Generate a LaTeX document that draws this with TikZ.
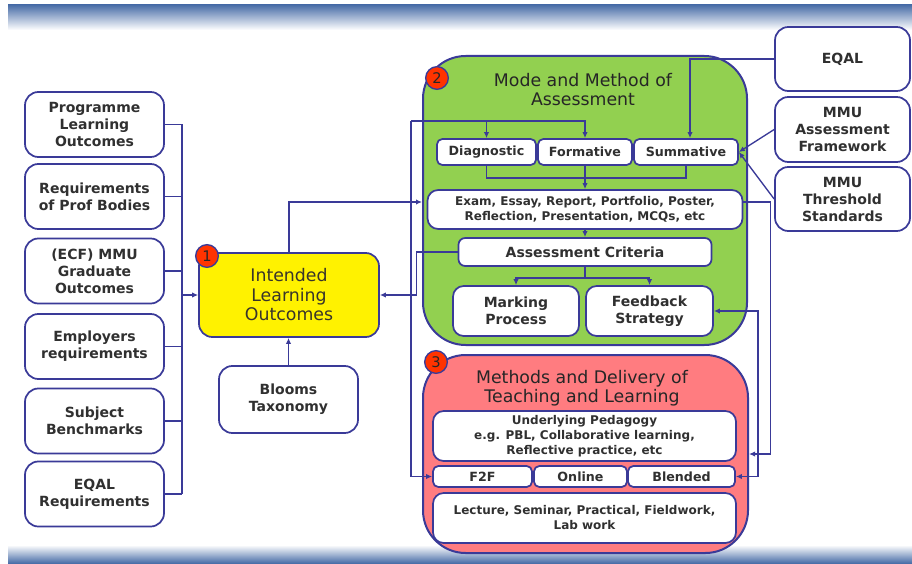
\documentclass[tikz,border=0pt]{standalone}
\usepackage{fontspec}
\setmainfont{DejaVu Sans}
\usetikzlibrary{positioning,calc,arrows.meta}

\definecolor{navyline}{RGB}{58,58,152}
\definecolor{greenpanel}{RGB}{146,208,80}
\definecolor{redpanel}{RGB}{255,124,128}
\definecolor{badgered}{RGB}{255,51,0}
\definecolor{barblue}{RGB}{74,110,168}
\definecolor{textgrey}{RGB}{48,48,48}

\begin{document}
\begin{tikzpicture}[x=0.75pt,y=-0.75pt,
    line/.style={draw=navyline,line width=1pt},
    arr/.style={line,-{Latex[length=4.5pt,width=4pt]}},
    twoarr/.style={line,{Latex[length=4.5pt,width=4pt]}-{Latex[length=4.5pt,width=4pt]}},
    box/.style={draw=navyline,line width=1.3pt,fill=white,rounded corners=8pt,
        align=center,text=textgrey,inner sep=1pt,
        font=\bfseries\fontsize{10.5}{12.75}\selectfont},
    sidebox/.style={box,rounded corners=10pt,minimum width=104.25pt,minimum height=48.75pt},
    smallbox/.style={box,rounded corners=4pt,minimum height=19.5pt,
        font=\bfseries\fontsize{9.5}{11}\selectfont},
    widebox/.style={box,minimum width=227.25pt,minimum height=37.5pt,
        font=\bfseries\fontsize{9}{11.25}\selectfont},
    panel/.style={draw=navyline,line width=1.5pt,rounded corners=32pt},
    title/.style={align=center,text=black!85,font=\fontsize{13}{14.5}\selectfont},
    badge/.style={circle,draw=navyline,line width=1pt,fill=badgered,minimum size=17pt,
        inner sep=0pt,text=black!85,font=\fontsize{11}{12}\selectfont}]

    \useasboundingbox (0,0) rectangle (912,563);
    \fill[white] (0,0) rectangle (912,563);
    \shade[top color=barblue,bottom color=white] (8,5) rectangle (912,30);
    \shade[top color=white,bottom color=barblue] (8,545) rectangle (912,563);

    % outside sources on the left
    \node[sidebox] (prog)    at (94.5,124.5) {Programme\\Learning\\Outcomes};
    \node[sidebox] (prof)    at (94.5,196.5) {Requirements\\of Prof Bodies};
    \node[sidebox] (grad)    at (94.5,271)   {(ECF) MMU\\Graduate\\Outcomes};
    \node[sidebox] (empl)    at (94.5,346.5) {Employers\\requirements};
    \node[sidebox] (bench)   at (94.5,421)   {Subject\\Benchmarks};
    \node[sidebox] (eqalreq) at (94.5,494)   {EQAL\\Requirements};

    % 1: learning outcomes
    \node[box,fill=yellow,rounded corners=10pt,minimum width=135pt,minimum height=63pt,
        text=black!80!olive,font=\fontsize{13}{14.6}\selectfont] (ilo) at (289,295)
        {Intended\\Learning\\Outcomes};
    \node[badge] (b1) at (207,256) {1};
    \node[sidebox,minimum height=50.25pt] (blooms) at (288.5,399.5) {Blooms\\Taxonomy};

    % 2: assessment
    \node[panel,fill=greenpanel,minimum width=243pt,minimum height=216.75pt] (assess) at (585,200.5) {};
    \node[badge] (b2) at (437,78) {2};
    \node[title] (assesstitle) at (583,89.5) {Mode and Method of\\Assessment};
    \node[smallbox,minimum width=74.25pt] (diag) at (486.5,152) {Diagnostic};
    \node[smallbox,minimum width=70.5pt]  (form) at (585,152)   {Formative};
    \node[smallbox,minimum width=78pt]    (summ) at (686,152)   {Summative};
    \node[box,minimum width=236.25pt,minimum height=29.25pt,
        font=\bfseries\fontsize{9}{11}\selectfont] (exam) at (585,209.5)
        {Exam, Essay, Report, Portfolio, Poster,\\Reflection, Presentation, MCQs, etc};
    \node[box,rounded corners=5pt,minimum width=189.75pt,minimum height=21pt] (crit) at (585,252) {Assessment Criteria};
    \node[box,minimum width=94.5pt,minimum height=37.5pt]  (mark) at (516,311)   {Marking\\Process};
    \node[box,minimum width=95.25pt,minimum height=37.5pt] (feed) at (649.5,311) {Feedback\\Strategy};

    % outside sources on the right
    \node[sidebox,minimum width=101.25pt,minimum height=48pt] (eqal)  at (842.5,59)    {EQAL};
    \node[sidebox,minimum width=101.25pt]                     (mmuaf) at (842.5,129.5) {MMU\\Assessment\\Framework};
    \node[sidebox,minimum width=101.25pt,minimum height=48pt] (mmuts) at (842.5,199)   {MMU\\Threshold\\Standards};

    % 3: teaching and learning
    \node[panel,fill=redpanel,minimum width=243.75pt,minimum height=148.5pt] (deliv) at (585.5,454) {};
    \node[badge] (b3) at (436,362) {3};
    \node[title] (delivtitle) at (582,388.5) {Methods and Delivery of\\Teaching and Learning};
    \node[widebox] (pedag) at (584.5,436) {Underlying Pedagogy\\e.g. PBL, Collaborative learning,\\Reflective practice, etc};
    \node[smallbox,minimum width=74.25pt,minimum height=15.75pt] (f2f)    at (482.5,476.5) {F2F};
    \node[smallbox,minimum width=69.75pt,minimum height=15.75pt] (online) at (580.5,476.5) {Online};
    \node[smallbox,minimum width=80.25pt,minimum height=15.75pt] (blend)  at (681.5,476.5) {Blended};
    \node[widebox] (lect) at (584.5,518) {Lecture, Seminar, Practical, Fieldwork,\\Lab work};

    % left bus into the outcomes
    \coordinate (bus) at (182,0);
    \foreach \n in {prog,prof,grad,empl,bench,eqalreq}
        \draw[line] (\n.east) -- (\n.east -| bus);
    \draw[line] (prog.east -| bus) -- (eqalreq.east -| bus);
    \draw[arr] (ilo.west -| bus) -- (ilo.west);
    \draw[arr] (blooms.north) -- (blooms.north |- ilo.south);

    % outcomes to assessment and delivery
    \coordinate (examin) at ($(exam.west)+(0,-7.5)$);
    \draw[arr] (ilo.north) |- (examin -| assess.west);
    \coordinate (spine) at (411,121);
    \draw[arr] (spine) -| (form.north);
    \draw[arr] (spine -| diag.north) -- (diag.north);
    \draw[arr] (spine) |- (f2f.west);
    \draw[arr] (crit.west) -- ++(-41,0) |- (ilo.east);

    % inside the assessment panel
    \draw[arr] (eqal.west) -| ([xshift=3pt]summ.north);
    \draw[arr] (mmuaf.west) -- (summ.east);
    \draw[arr] (mmuts.west) -- (summ.east);
    \draw[line] (diag.south) -- ++(0,12) -| (summ.south);
    \draw[arr] (form.south) -- (exam.north);
    \draw[arr] (exam.south) -- (crit.north);
    \draw[line] (crit.south) -- ++(0,11) coordinate (split);
    \draw[arr] (split) -| (mark.north);
    \draw[arr] (split) -| (feed.north);

    % assessment back to delivery
    \coordinate (examout) at ($(exam.east)+(0,-7.5)$);
    \draw[arr] (examout) -- ++(27,0) |- (deliv.east);
    \draw[twoarr] (feed.east) -- ++(44,0) |- (blend.east);
\end{tikzpicture}
\end{document}
